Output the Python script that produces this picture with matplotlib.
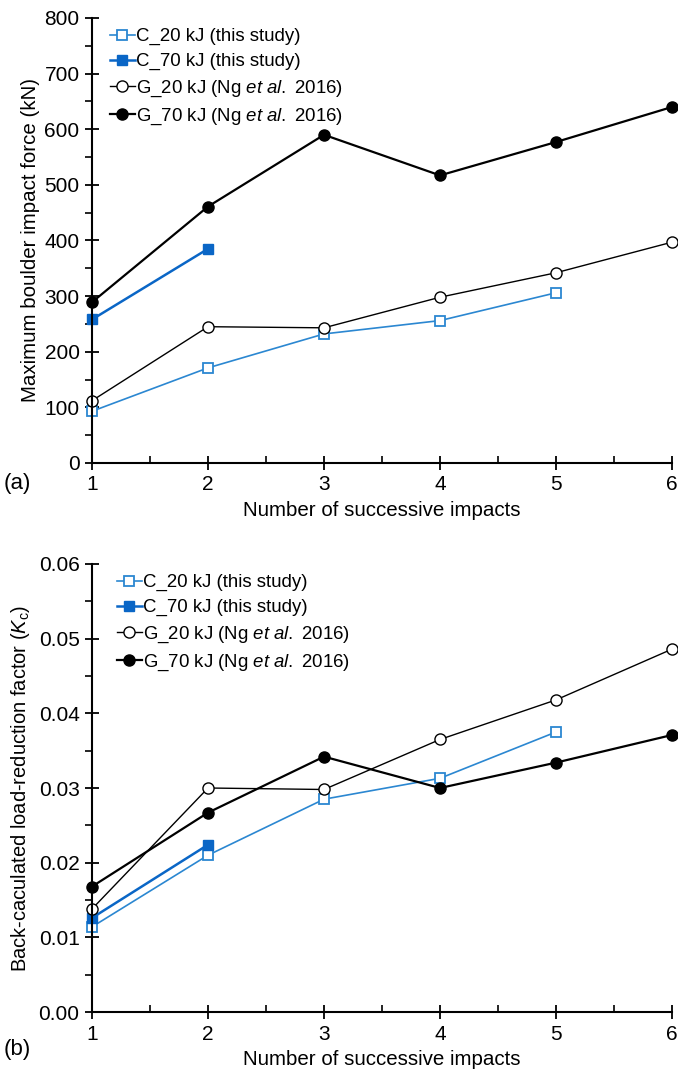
import matplotlib.pyplot as plt
from matplotlib.ticker import MultipleLocator, FormatStrFormatter

plt.rcParams['font.family'] = ['Liberation Sans', 'DejaVu Sans']
plt.rcParams['mathtext.fontset'] = 'custom'
plt.rcParams['mathtext.rm'] = 'Liberation Sans'
plt.rcParams['mathtext.it'] = 'Liberation Sans:italic'

# number of successive impacts
impacts = [1, 2, 3, 4, 5, 6]

# (a) maximum boulder impact force, kN
force_c20 = [93, 171, 232, 256, 306]
force_c70 = [258, 385]
force_g20 = [112, 245, 243, 298, 342, 397]
force_g70 = [289, 461, 590, 517, 577, 640]

# (b) back-calculated load-reduction factor Kc
kc_c20 = [0.0114, 0.0210, 0.0285, 0.0313, 0.0375]
kc_c70 = [0.0126, 0.0224]
kc_g20 = [0.0138, 0.0300, 0.0298, 0.0365, 0.0418, 0.0486]
kc_g70 = [0.0168, 0.0267, 0.0342, 0.0300, 0.0334, 0.0371]

labels = ['C_20 kJ (this study)',
          'C_70 kJ (this study)',
          r'G_20 kJ (Ng $\it{et\ al.}$ 2016)',
          r'G_70 kJ (Ng $\it{et\ al.}$ 2016)']

blue_light = '#2B87D1'
blue_dark = '#0A66C6'


def draw(ax, c20, c70, g20, g70, leg_x):
    ax.plot(impacts[:len(c20)], c20, '-s', color=blue_light, lw=1.2, ms=7.5,
            mfc='white', mec=blue_light, mew=1.3, label=labels[0], clip_on=False)
    ax.plot(impacts[:len(c70)], c70, '-s', color=blue_dark, lw=1.8, ms=7.5,
            mfc=blue_dark, mec=blue_dark, label=labels[1], clip_on=False)
    ax.plot(impacts, g20, '-o', color='black', lw=1.0, ms=8,
            mfc='white', mec='black', mew=1.0, label=labels[2], clip_on=False)
    ax.plot(impacts, g70, '-o', color='black', lw=1.6, ms=8,
            mfc='black', mec='black', label=labels[3], clip_on=False)
    for s in ['top', 'right']:
        ax.spines[s].set_visible(False)
    for s in ['left', 'bottom']:
        ax.spines[s].set_linewidth(1.5)
    ax.set_xlim(1, 6)
    ax.xaxis.set_major_locator(MultipleLocator(1))
    ax.xaxis.set_minor_locator(MultipleLocator(0.5))
    ax.tick_params(axis='both', which='major', direction='inout', length=10,
                   width=1.3, labelsize=15, pad=4)
    ax.tick_params(axis='x', which='minor', direction='in', length=5, width=1.2)
    ax.tick_params(axis='y', which='minor', direction='out', length=5, width=1.2)
    ax.set_xlabel('Number of successive impacts', fontsize=14.8, labelpad=5)
    ax.legend(loc='upper left', bbox_to_anchor=(leg_x, 1.0), frameon=False,
              fontsize=13.4, handlelength=1.3, handletextpad=0.1,
              labelspacing=0.42, borderaxespad=0.15)


fig = plt.figure(figsize=(6.78, 10.7), dpi=100)
ax1 = fig.add_axes([0.1357, 0.5673, 0.8555, 0.4159])
ax2 = fig.add_axes([0.1357, 0.0542, 0.8555, 0.4187])

draw(ax1, force_c20, force_c70, force_g20, force_g70, 0.014)
ax1.set_ylim(0, 800)
ax1.yaxis.set_major_locator(MultipleLocator(100))
ax1.yaxis.set_minor_locator(MultipleLocator(50))
ax1.set_ylabel('Maximum boulder impact force (kN)', fontsize=14.8, labelpad=3)

draw(ax2, kc_c20, kc_c70, kc_g20, kc_g70, 0.026)
ax2.set_ylim(0, 0.06)
ax2.yaxis.set_major_locator(MultipleLocator(0.01))
ax2.yaxis.set_minor_locator(MultipleLocator(0.005))
ax2.yaxis.set_major_formatter(FormatStrFormatter('%.2f'))
ax2.set_ylabel(r'Back-caculated load-reduction factor ($\it{K}_{\rm c}$)',
               fontsize=14.5, labelpad=5)

fig.text(0.006, 1 - 484 / 1070, '(a)', fontsize=16, va='center')
fig.text(0.006, 1 - 1049 / 1070, '(b)', fontsize=16, va='center')

fig.savefig('out.png', dpi=100)
